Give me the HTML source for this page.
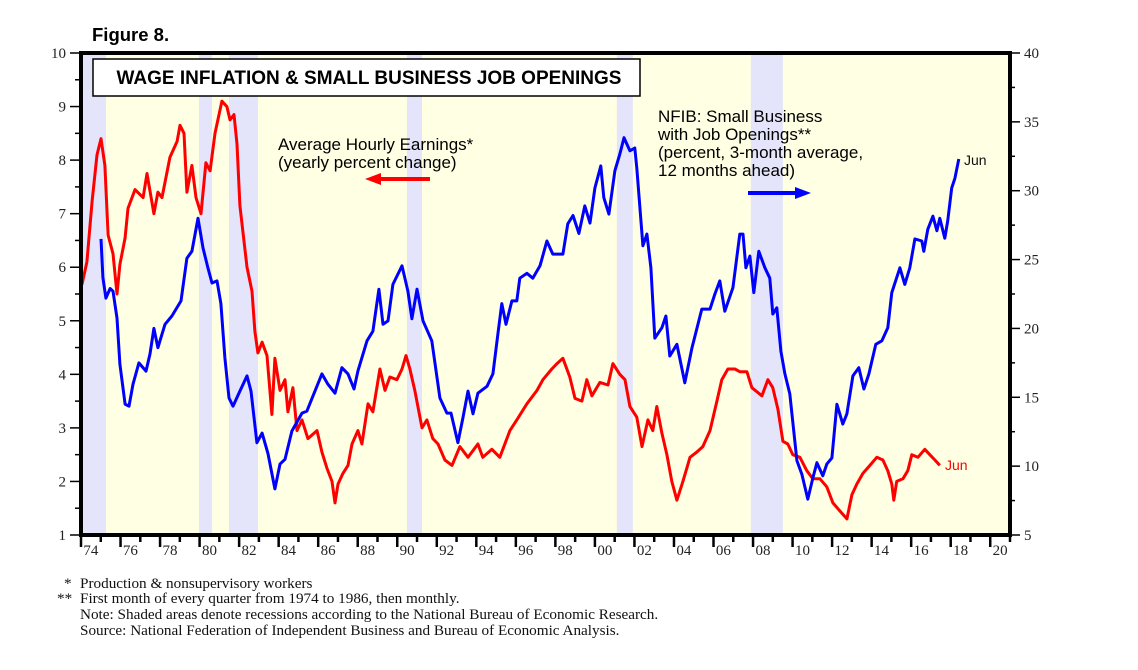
<!DOCTYPE html>
<html><head><meta charset="utf-8"><style>
body{margin:0;background:#fff;width:1138px;height:670px;overflow:hidden}
svg{display:block}
.sf{font-family:"Liberation Serif",serif}
.ss{font-family:"Liberation Sans",sans-serif}
</style></head><body>
<svg id="chart" width="1138" height="670" xmlns="http://www.w3.org/2000/svg"></svg>
<script>
const recessions=[[1973.9,1975.26],[1979.97,1980.63],[1981.49,1982.95],[1990.49,1991.25],[2001.11,2001.92],[2007.89,2009.51]];
const leftTicks=[1,2,3,4,5,6,7,8,9,10];
const rightTicks=[5,10,15,20,25,30,35,40];
const yearLabels=['74','76','78','80','82','84','86','88','90','92','94','96','98','00','02','04','06','08','10','12','14','16','18','20'];
const ahe_dates=[1974.05,1974.3,1974.56,1974.81,1975.01,1975.21,1975.37,1975.62,1975.82,1975.97,1976.23,1976.38,1976.73,1977.14,1977.34,1977.69,1977.89,1978.1,1978.5,1978.86,1979.01,1979.21,1979.36,1979.61,1979.82,1980.07,1980.32,1980.53,1980.78,1981.13,1981.38,1981.54,1981.74,1981.89,1982.04,1982.4,1982.65,1982.8,1982.95,1983.16,1983.41,1983.66,1983.81,1984.07,1984.32,1984.47,1984.72,1984.93,1985.18,1985.48,1985.94,1986.19,1986.44,1986.7,1986.85,1987.0,1987.25,1987.51,1987.71,1988.01,1988.21,1988.52,1988.77,1989.12,1989.38,1989.63,1989.98,1990.24,1990.44,1990.64,1990.89,1991.25,1991.5,1991.8,1992.06,1992.41,1992.77,1993.17,1993.58,1994.08,1994.33,1994.79,1995.19,1995.7,1996.05,1996.56,1997.07,1997.37,1997.82,1998.08,1998.38,1998.73,1998.99,1999.34,1999.59,1999.85,2000.25,2000.66,2000.91,2001.26,2001.52,2001.77,2002.12,2002.38,2002.68,2002.93,2003.13,2003.39,2003.64,2003.89,2004.15,2004.45,2004.81,2005.16,2005.46,2005.82,2006.17,2006.42,2006.73,2007.08,2007.33,2007.69,2007.94,2008.45,2008.75,2009.0,2009.26,2009.51,2009.76,2010.01,2010.37,2010.72,2011.03,2011.38,2011.73,2012.04,2012.39,2012.75,2013.0,2013.25,2013.56,2013.91,2014.26,2014.57,2014.82,2015.02,2015.12,2015.27,2015.58,2015.83,2016.03,2016.34,2016.69,2016.94,2017.2,2017.45];
const ahe_values=[5.68,6.1,7.23,8.1,8.4,7.9,6.6,6.25,5.5,6.05,6.55,7.1,7.45,7.3,7.75,7.0,7.4,7.3,8.05,8.35,8.65,8.5,7.4,7.9,7.3,7.0,7.95,7.8,8.5,9.1,9.0,8.75,8.85,8.3,7.15,6.0,5.55,4.8,4.4,4.6,4.35,3.25,4.3,3.7,3.9,3.3,3.75,2.95,3.15,2.8,2.95,2.55,2.25,2.0,1.6,1.95,2.15,2.3,2.7,2.95,2.7,3.45,3.3,4.1,3.7,3.95,3.9,4.1,4.35,4.1,3.7,3.0,3.15,2.8,2.7,2.4,2.3,2.65,2.45,2.7,2.45,2.6,2.45,2.95,3.15,3.45,3.7,3.9,4.1,4.2,4.3,3.95,3.55,3.5,3.9,3.6,3.85,3.8,4.2,4.0,3.9,3.4,3.2,2.65,3.15,2.95,3.4,2.9,2.5,2.0,1.65,2.0,2.45,2.55,2.65,2.95,3.5,3.9,4.1,4.1,4.05,4.05,3.75,3.6,3.9,3.75,3.35,2.75,2.7,2.5,2.45,2.2,2.05,2.05,1.9,1.6,1.45,1.3,1.75,1.95,2.15,2.3,2.45,2.4,2.2,1.95,1.65,2.0,2.05,2.2,2.5,2.45,2.6,2.5,2.4,2.3];
const nfib_dates=[1975.01,1975.11,1975.26,1975.47,1975.62,1975.82,1975.97,1976.23,1976.43,1976.63,1976.93,1977.29,1977.49,1977.69,1977.89,1978.25,1978.6,1979.06,1979.36,1979.61,1979.92,1980.17,1980.42,1980.63,1980.88,1981.08,1981.28,1981.49,1981.69,1982.04,1982.4,1982.6,1982.9,1983.16,1983.46,1983.81,1984.07,1984.32,1984.67,1985.18,1985.43,1986.19,1986.49,1986.85,1987.2,1987.51,1987.81,1988.01,1988.47,1988.77,1989.07,1989.28,1989.53,1989.78,1990.24,1990.54,1990.74,1991.0,1991.3,1991.75,1992.16,1992.51,1992.72,1993.07,1993.32,1993.58,1993.83,1994.08,1994.54,1994.84,1995.09,1995.29,1995.5,1995.8,1996.05,1996.2,1996.56,1996.86,1997.22,1997.57,1997.87,1998.38,1998.63,1998.89,1999.19,1999.49,1999.75,2000.0,2000.3,2000.45,2000.71,2001.01,2001.26,2001.47,2001.77,2002.02,2002.12,2002.43,2002.63,2002.83,2003.03,2003.39,2003.59,2003.79,2004.15,2004.55,2004.91,2005.41,2005.82,2006.07,2006.32,2006.57,2006.98,2007.33,2007.49,2007.64,2007.84,2008.04,2008.29,2008.6,2008.85,2009.0,2009.2,2009.41,2009.61,2009.86,2010.22,2010.47,2010.77,2011.03,2011.23,2011.53,2011.73,2011.99,2012.24,2012.54,2012.75,2013.05,2013.35,2013.61,2013.86,2014.21,2014.52,2014.82,2015.02,2015.43,2015.68,2015.93,2016.19,2016.54,2016.64,2016.84,2017.1,2017.3,2017.45,2017.7,2017.85,2018.05,2018.21,2018.41];
const nfib_values=[26.5,23.7,22.2,22.9,22.7,20.75,17.4,14.5,14.35,15.95,17.5,16.9,18.15,20.0,18.6,20.3,20.9,22.0,25.1,25.6,28.0,25.85,24.4,23.3,23.45,21.8,17.85,14.95,14.35,15.45,16.55,15.45,11.7,12.4,10.9,8.35,10.15,10.5,12.55,13.85,14.0,16.7,15.95,15.3,17.15,16.7,15.6,16.9,19.1,19.8,22.85,20.3,20.55,23.2,24.55,22.7,20.7,22.85,20.55,19.1,14.95,13.85,13.85,11.7,13.5,15.45,13.8,15.3,15.8,16.7,19.6,21.8,20.3,22.0,22.0,23.65,24.0,23.65,24.55,26.35,25.4,25.4,27.6,28.2,26.9,28.9,27.65,30.2,31.8,29.5,28.3,31.45,32.65,33.85,32.9,33.1,31.65,26.0,26.85,24.4,19.3,20.05,20.9,18.0,18.85,16.05,18.6,21.4,21.4,22.5,23.45,21.25,22.95,26.85,26.85,24.4,25.25,22.6,25.6,24.4,23.65,21.05,21.5,18.35,16.7,15.25,10.4,9.4,7.6,9.15,10.25,9.3,10.15,10.6,14.5,13.05,13.8,16.55,17.15,15.6,16.7,18.85,19.1,20.05,22.6,24.4,23.2,24.4,26.5,26.35,25.6,27.2,28.15,27.1,28.0,26.55,27.8,30.2,30.9,32.3];

const svg=document.getElementById('chart');
const NS='http://www.w3.org/2000/svg';
const X0=81,X1=1010,Y0=535,Y1=53;
const xs=y=>X0+(y-1974)*(X1-X0)/47;
const yl=v=>Y0-(v-1)*(Y0-Y1)/9;
const yr=v=>Y0-(v-5)*(Y0-Y1)/35;
function mk(tag,attrs,parent){const e=document.createElementNS(NS,tag);for(const k in attrs)e.setAttribute(k,attrs[k]);(parent||svg).appendChild(e);return e;}

const bg=mk('rect',{x:X0,y:Y1,width:X1-X0,height:Y0-Y1,fill:'#FFFFE3'});


recessions.forEach(r=>{
  const e=mk('rect',{x:xs(r[0]),y:Y1,width:xs(r[1])-xs(r[0]),height:Y0-Y1,fill:'#E4E4FA'});
  
  
});
leftTicks.forEach(v=>{
  mk('line',{x1:70,x2:X0,y1:yl(v),y2:yl(v),stroke:'#000','stroke-width':1.5});
  if(v<10)mk('line',{x1:75,x2:X0,y1:yl(v+0.5),y2:yl(v+0.5),stroke:'#000','stroke-width':1.5});
  const t=mk('text',{x:66,y:yl(v)+5,'text-anchor':'end','font-size':15,class:'sf',fill:'#222'});
  t.textContent=v;
  
  
});
rightTicks.forEach(v=>{
  mk('line',{x1:X1,x2:1020,y1:yr(v),y2:yr(v),stroke:'#000','stroke-width':1.5});
  if(v<40)mk('line',{x1:X1,x2:1015,y1:yr(v+2.5),y2:yr(v+2.5),stroke:'#000','stroke-width':1.5});
  const t=mk('text',{x:1024,y:yr(v)+5,'font-size':15,class:'sf',fill:'#222'});
  t.textContent=v;
  
  
});
for(let y=1974;y<=2021;y++){
  const x=xs(y);
  mk('line',{x1:x,x2:x,y1:Y0,y2:Y0+(y%2===0?12:7),stroke:'#000','stroke-width':2.5});
}
yearLabels.forEach((l,i)=>{
  const t=mk('text',{x:xs(1974+2*i)+9.9,y:Y0+20,'text-anchor':'middle','font-size':15,class:'sf',fill:'#222'});
  t.textContent=l;
  
  
});
function line(dates,vals,yf,color,name){
  const d=dates.map((t,i)=>(i?'L':'M')+xs(t).toFixed(1)+','+yf(vals[i]).toFixed(1)).join('');
  const p=mk('path',{d:d,fill:'none',stroke:color,'stroke-width':3,'stroke-linejoin':'round'});
  
  
}
line(ahe_dates,ahe_values,yl,'#FF0000','avg-hourly-earnings-line');
line(nfib_dates,nfib_values,yr,'#0000FF','nfib-job-openings-line');
const fr=mk('rect',{x:X0,y:Y1,width:X1-X0,height:Y0-Y1,fill:'none',stroke:'#000','stroke-width':4});


</script>
<svg style="position:absolute;left:0;top:0" width="1138" height="670">
<text x="92" y="41" class="ss" font-size="18.5" font-weight="bold">Figure 8.</text>
<rect x="93" y="59" width="547" height="37" fill="#fff" stroke="#000" stroke-width="1.5"/>
<text x="369" y="84" text-anchor="middle" class="ss" font-size="19" font-weight="bold">WAGE INFLATION &amp; SMALL BUSINESS JOB OPENINGS</text>
<text x="278" y="150" class="ss" font-size="17">Average Hourly Earnings*</text>
<text x="278" y="168" class="ss" font-size="17">(yearly percent change)</text>
<line x1="430" y1="179" x2="378" y2="179" stroke="#f00" stroke-width="4"/>
<polygon points="365,179 381,173 381,185" fill="#f00"/>
<text x="658" y="122" class="ss" font-size="17">NFIB: Small Business</text>
<text x="658" y="140" class="ss" font-size="17">with Job Openings**</text>
<text x="658" y="158" class="ss" font-size="17">(percent, 3-month average,</text>
<text x="658" y="176" class="ss" font-size="17">12 months ahead)</text>
<line x1="748" y1="193" x2="798" y2="193" stroke="#00f" stroke-width="4"/>
<polygon points="811,193 795,187 795,199" fill="#00f"/>
<text x="964" y="165" class="ss" font-size="14" fill="#111">Jun</text>
<text x="945" y="470" class="ss" font-size="14" fill="#f00">Jun</text>
<g class="sf" font-size="15.2" fill="#111">
<text x="64" y="588">*</text><text x="80" y="588">Production &amp; nonsupervisory workers</text>
<text x="57" y="603">**</text><text x="80" y="603">First month of every quarter from 1974 to 1986, then monthly.</text>
<text x="80" y="619">Note: Shaded areas denote recessions according to the National Bureau of Economic Research.</text>
<text x="80" y="635">Source: National Federation of Independent Business and Bureau of Economic Analysis.</text>
</g>
</svg>
</body></html>
